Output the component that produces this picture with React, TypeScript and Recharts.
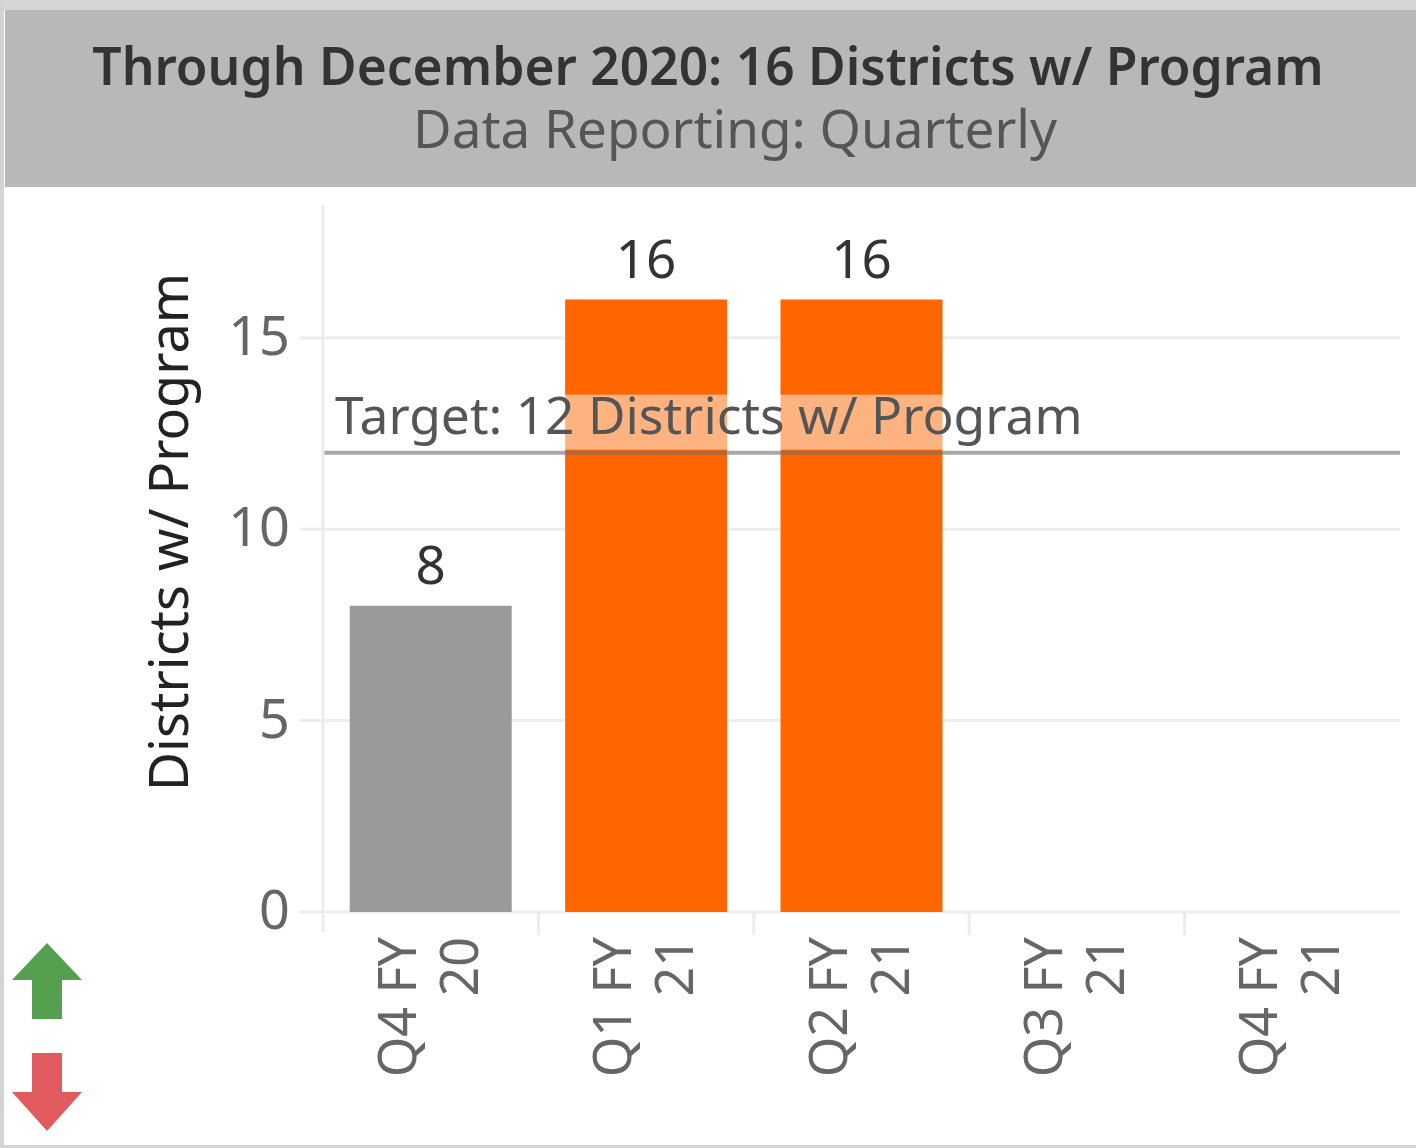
import React from 'react';
import { BarChart, Bar, XAxis, YAxis, CartesianGrid, ReferenceLine, Cell, LabelList } from 'recharts';

const categories = ['Q4 FY 20', 'Q1 FY 21', 'Q2 FY 21', 'Q3 FY 21', 'Q4 FY 21'];
const districts: (number | null)[] = [8, 16, 16, null, null];
const yTicks = [0, 5, 10, 15];
const yMax = 18.47;
const target = 12;
const titleText = 'Through December 2020: 16 Districts w/ Program';
const subtitleText = 'Data Reporting: Quarterly';
const yAxisTitle = 'Districts w/ Program';
const targetLabel = `Target: ${target} Districts w/ Program`;

const data = categories.map((c, i) => ({ quarter: c, value: districts[i] }));

const FONT = "'Noto Sans', sans-serif";
const W = 1416;
const H = 1148;

const barColor = (cat: string) => (cat.includes('FY 20') ? '#9a9a9a' : '#ff6600');

let measureCtx: CanvasRenderingContext2D | null = null;
const measure = (text: string, size: number) => {
  if (typeof document === 'undefined') return text.length * size * 0.55;
  if (!measureCtx) measureCtx = document.createElement('canvas').getContext('2d');
  if (!measureCtx) return text.length * size * 0.55;
  measureCtx.font = `${size}px 'Noto Sans'`;
  return measureCtx.measureText(text).width;
};

const XTick = (props: any) => {
  const { x, y, payload, index, width, visibleTicksCount } = props;
  const label = String(payload.value);
  const cut = label.lastIndexOf(' ');
  const l1 = label.slice(0, cut);
  const l2 = label.slice(cut + 1);
  const half = payload.offset && payload.offset > 0 ? payload.offset : width / (visibleTicksCount || 5) / 2;
  return (
    <g>
      {index > 0 && (
        <line x1={x - half} x2={x - half} y1={y} y2={y + 23} stroke="#ececec" strokeWidth={3} />
      )}
      <g transform={`translate(${x},${y + 25}) rotate(-90)`}>
        <text textAnchor="end" fontSize={52} fill="#666" fontFamily={FONT}>
          <tspan x={0} y={-15}>{l1}</tspan>
          <tspan x={0} y={47}>{l2}</tspan>
        </text>
      </g>
    </g>
  );
};

const YTick = (props: any) => {
  const { x, y, payload } = props;
  return (
    <text x={x} y={y + 17} textAnchor="end" fontSize={54} fill="#666" fontFamily={FONT}>
      {payload.value}
    </text>
  );
};

const ValueLabel = (p: any) => {
  const { x, y, width, value } = p;
  if (value == null) return null;
  return (
    <text x={x + width / 2} y={y - 22} textAnchor="middle" fontSize={53} fill="#333" fontFamily={FONT}>
      {value}
    </text>
  );
};

const TargetLabel = (p: any) => {
  const vb = p.viewBox || {};
  const x = vb.x ?? 0;
  const y = vb.y ?? 0;
  const fs = 51.5;
  const tw = measure(targetLabel, fs);
  return (
    <g>
      <rect x={x + 10} y={y - 58} width={tw + 6} height={55} fill="#ffffff" fillOpacity={0.5} />
      <text x={x + 12} y={y - 19} fontSize={fs} fill="#555" fontFamily={FONT}>
        {targetLabel}
      </text>
    </g>
  );
};

export default function App() {
  return (
    <div style={{ position: 'absolute', left: 0, top: 0, width: W, height: H, background: '#fff', overflow: 'hidden' }}>
      <svg width={W} height={H} style={{ position: 'absolute', left: 0, top: 0 }}>
        <rect x={0} y={0} width={W} height={10} fill="#d6d6d6" />
        <rect x={0} y={0} width={4} height={H} fill="#d4d4d4" />
        <rect x={0} y={H - 3} width={W} height={3} fill="#d4d4d4" />
        <rect x={5} y={10} width={W - 5} height={177} fill="#b8b8b8" />
        <text x={708} y={85} textAnchor="middle" fontSize={51.5} fontWeight={600} fill="#333" fontFamily={FONT}>
          {titleText}
        </text>
        <text x={735} y={148} textAnchor="middle" fontSize={53} fill="#555" fontFamily={FONT}>
          {subtitleText}
        </text>
        <text
          transform={`translate(188,532) rotate(-90)`}
          textAnchor="middle"
          fontSize={54}
          fill="#222"
          fontFamily={FONT}
        >
          {yAxisTitle}
        </text>
        <line x1={323} x2={323} y1={912} y2={932} stroke="#ececec" strokeWidth={3} />
        <polygon points="47,943 82,980 62,980 62,1019 32,1019 32,980 12,980" fill="#55a04e" />
        <polygon points="32,1053 62,1053 62,1092 82,1092 47,1131 12,1092 32,1092" fill="#e05a5e" />
      </svg>
      <div style={{ position: 'absolute', left: 0, top: 0 }}>
        <BarChart
          width={W}
          height={H}
          data={data}
          margin={{ top: 205, right: 16, bottom: 0, left: 0 }}
          barCategoryGap="12.4%"
        >
          <CartesianGrid vertical={false} stroke="#ededed" strokeWidth={3} horizontalValues={yTicks} />
          <XAxis
            dataKey="quarter"
            height={236}
            tickSize={0}
            tickMargin={0}
            axisLine={false}
            tickLine={false}
            interval={0}
            tick={<XTick />}
          />
          <YAxis
            width={323}
            domain={[0, yMax]}
            ticks={yTicks}
            allowDataOverflow
            axisLine={{ stroke: '#ececec', strokeWidth: 3 }}
            tickLine={{ stroke: '#ececec', strokeWidth: 3 }}
            tickSize={23}
            tickMargin={10}
            tick={<YTick />}
          />
          <Bar dataKey="value" isAnimationActive={false}>
            {data.map((d) => (
              <Cell key={d.quarter} fill={barColor(d.quarter)} />
            ))}
            <LabelList dataKey="value" content={<ValueLabel />} />
          </Bar>
          <ReferenceLine
            y={target}
            stroke="#6e6e6e"
            strokeOpacity={0.6}
            strokeWidth={4}
            label={<TargetLabel />}
          />
        </BarChart>
      </div>
    </div>
  );
}
